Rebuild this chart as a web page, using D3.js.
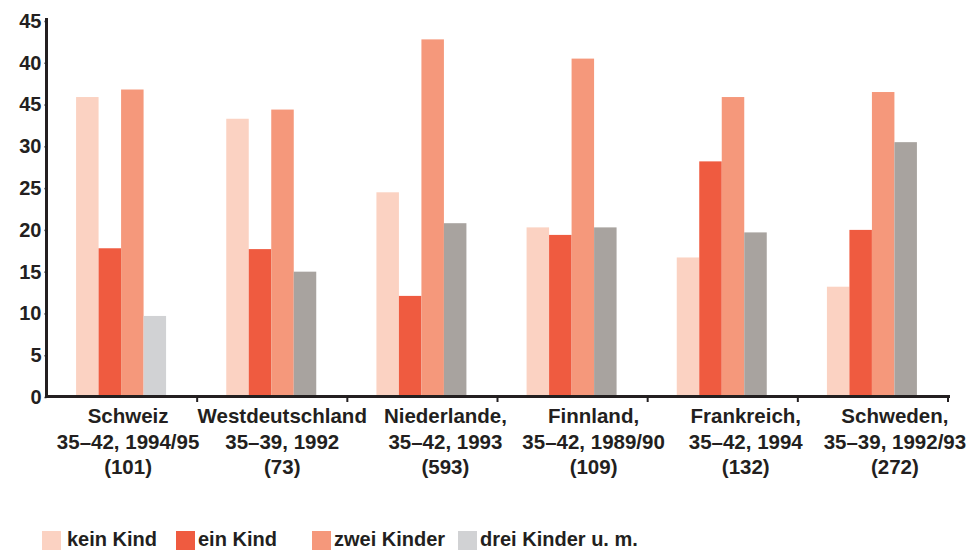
<!DOCTYPE html>
<html>
<head>
<meta charset="utf-8">
<script src="https://cdn.jsdelivr.net/npm/d3@7"></script>
<style>
  body { margin: 0; background: #fff; }
  svg text { font-family: "Liberation Sans", Arial, sans-serif; font-weight: bold; fill: #231f20; }
</style>
</head>
<body>
<div id="chart"></div>
<script>
// data
var countries = ["Schweiz", "Westdeutschland", "Niederlande", "Finnland", "Frankreich", "Schweden"];
var countryLabels = [
  ["Schweiz", "35–42, 1994/95", "(101)"],
  ["Westdeutschland", "35–39, 1992", "(73)"],
  ["Niederlande,", "35–42, 1993", "(593)"],
  ["Finnland,", "35–42, 1989/90", "(109)"],
  ["Frankreich,", "35–42, 1994", "(132)"],
  ["Schweden,", "35–39, 1992/93", "(272)"]
];
var seriesNames = ["kein Kind", "ein Kind", "zwei Kinder", "drei Kinder u. m."];
var keinKind = [35.9, 33.3, 24.5, 20.3, 16.7, 13.2];
var einKind = [17.8, 17.7, 12.1, 19.4, 28.2, 20.0];
var zweiKinder = [36.8, 34.4, 42.8, 40.5, 35.9, 36.5];
var dreiKinder = [9.7, 15.0, 20.8, 20.3, 19.7, 30.5];
var yTicks = [0, 5, 10, 15, 20, 25, 30, 35, 40, 45];
var yTickLabels = ["0", "5", "10", "15", "20", "25", "30", "45", "40", "45"];

var colors = ["#fbd2c2", "#ef5b40", "#f5987b", "#a8a39f"];
var lightGrey = "#d1d2d4";   // Schweiz bar and legend swatch
var labelDx = [6, 10, 23, 21, 23, 22];

var svgWidth = 974;
var svgHeight = 550;

var svg = d3.select("#chart")
  .append("svg")
  .attr("width", svgWidth)
  .attr("height", svgHeight);

var seriesValues = [keinKind, einKind, zweiKinder, dreiKinder];

// scales
var x0 = d3.scaleBand()
  .domain(countries)
  .range([47, 948])
  .paddingInner(0)
  .paddingOuter(0);

var x1 = d3.scaleBand()
  .domain(d3.range(seriesNames.length))
  .range([x0.bandwidth() / 2 - 46, x0.bandwidth() / 2 + 44]);

var y = d3.scaleLinear()
  .domain([0, 45])
  .range([397, 21]);

// bars
var groups = svg.selectAll(".group")
  .data(countries)
  .enter()
  .append("g")
  .attr("class", "group")
  .attr("transform", d => `translate(${x0(d)},0)`);

groups.selectAll("rect")
  .data((c, ci) => seriesValues.map((vals, si) => ({ s: si, c: ci, v: vals[ci] })))
  .enter()
  .append("rect")
  .attr("x", d => x1(d.s))
  .attr("width", x1.bandwidth())
  .attr("y", d => y(d.v))
  .attr("height", d => y(0) - y(d.v))
  .attr("fill", d => (d.s === 3 && d.c === 0) ? lightGrey : colors[d.s]);

// y axis
var yAxis = svg.append("g")
  .attr("transform", "translate(46.5,0)")
  .call(d3.axisLeft(y)
    .tickValues(yTicks)
    .tickFormat((d, i) => yTickLabels[i])
    .tickSizeInner(2)
    .tickSizeOuter(0)
    .tickPadding(3));

yAxis.select(".domain")
  .attr("d", `M0,${y(45) - 3}V${y(0)}`)
  .attr("stroke", "#231f20")
  .attr("stroke-width", 3);
yAxis.selectAll(".tick line").attr("stroke", "#231f20").attr("stroke-width", 1.5);
yAxis.selectAll(".tick text")
  .style("font-size", "20px")
  .attr("fill", "#231f20");

// x axis line and tick marks at band boundaries
svg.append("line")
  .attr("x1", 45)
  .attr("x2", 950)
  .attr("y1", 396.5)
  .attr("y2", 396.5)
  .attr("stroke", "#231f20")
  .attr("stroke-width", 3);

svg.selectAll(".xtick")
  .data(countries)
  .enter()
  .append("line")
  .attr("class", "xtick")
  .attr("x1", d => x0(d) + x0.bandwidth())
  .attr("x2", d => x0(d) + x0.bandwidth())
  .attr("y1", 397)
  .attr("y2", 402)
  .attr("stroke", "#231f20")
  .attr("stroke-width", 2);

// category labels
var labels = svg.selectAll(".xlabel")
  .data(countries)
  .enter()
  .append("text")
  .attr("class", "xlabel")
  .attr("text-anchor", "middle")
  .style("font-size", "20.5px");

labels.each(function(d, i) {
  var cx = x0(d) + x0.bandwidth() / 2 + labelDx[i];
  countryLabels[i].forEach(function(line, j) {
    d3.select(this).append("tspan")
      .attr("x", cx)
      .attr("y", 423 + j * 25.5)
      .text(line);
  }, this);
});

// legend
var legendX = [42, 176, 312, 458];
var legend = svg.selectAll(".legend")
  .data(seriesNames)
  .enter()
  .append("g")
  .attr("class", "legend")
  .attr("transform", (d, i) => `translate(${legendX[i]},531)`);

legend.append("rect")
  .attr("width", 19)
  .attr("height", 19)
  .attr("fill", (d, i) => i === 3 ? lightGrey : colors[i]);

legend.append("text")
  .attr("x", (d, i) => i === 0 ? 25 : 22)
  .attr("y", 15)
  .style("font-size", "20px")
  .text(d => d);
</script>
</body>
</html>
